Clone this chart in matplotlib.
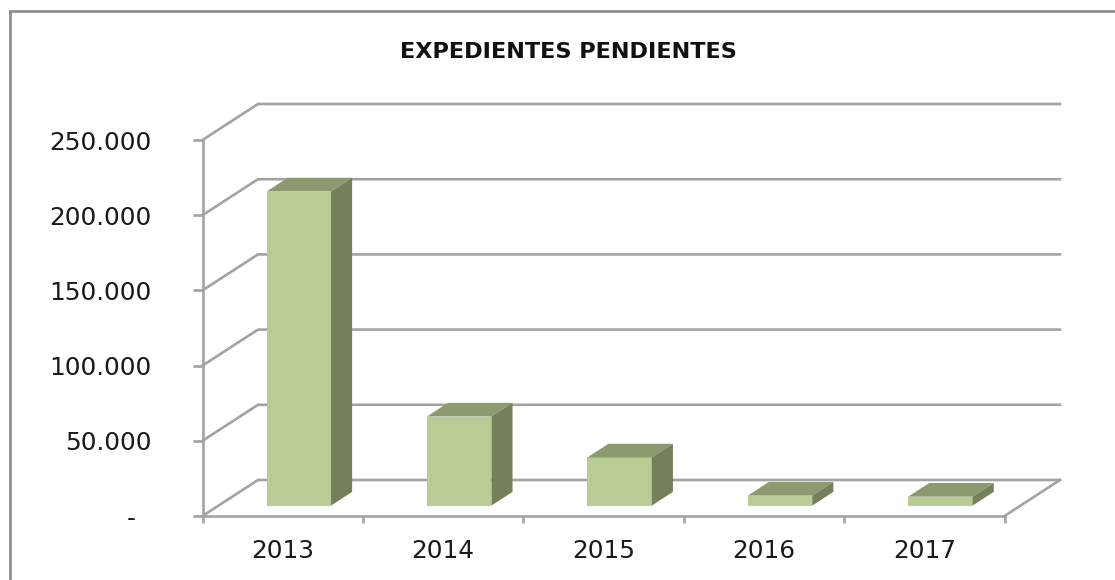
import matplotlib
matplotlib.use("Agg")
import matplotlib.pyplot as plt
import numpy as np
from matplotlib.patches import Polygon, Rectangle

years = ["2013", "2014", "2015", "2016", "2017"]
pendientes = [208800, 59200, 32000, 6600, 5900]
y_ticks = [0, 50000, 100000, 150000, 200000, 250000]
y_labels = ["-  ", "50.000", "100.000", "150.000", "200.000", "250.000"]
title = "EXPEDIENTES PENDIENTES"

W, H = 1115, 580
GRID = "#A3A3A3"
FRONT = "#B9CC94"
TOP = "#8C9A6F"
SIDE = "#738059"

fig = plt.figure(figsize=(W / 100, H / 100), dpi=100)
# chart border, runs off the right and bottom of the picture
fig.add_artist(Rectangle((9.5 / W, -0.1), 1.1, 1 - 10.5 / H + 0.1, transform=fig.transFigure,
                         fc="white", ec="#8A8A8A", lw=1.9, zorder=-1))
ax = fig.add_axes([202.5 / W, (H - 516) / H, 802 / W, 376 / H])
ax.patch.set_visible(False)
ax.set_xlim(0, 5)
ax.set_ylim(0, 250000)

# depth of the fake 3d box, in data units
wall_dx = 55.5 / (802 / 5)
wall_dy = 36 / 376 * 250000
bar_start = 0.29
bar_depth = 0.38
bar_width = 0.402

# back wall lines and their diagonals
for v in y_ticks:
    ax.plot([0, wall_dx, 5 + wall_dx], [v, v + wall_dy, v + wall_dy], color=GRID, lw=1.9, clip_on=False, zorder=1)
ax.plot([5, 5 + wall_dx], [0, wall_dy], color=GRID, lw=1.9, clip_on=False, zorder=1)

# bars
x = np.arange(len(years)) + 0.5
x0 = x + bar_start * wall_dx
y0 = bar_start * wall_dy
dx = bar_depth * wall_dx
dy = bar_depth * wall_dy
ax.bar(x0, pendientes, width=bar_width, bottom=y0, color=FRONT, clip_on=False, zorder=3)
for xc, v in zip(x0, pendientes):
    l, r = xc - bar_width / 2, xc + bar_width / 2
    top = y0 + v
    ax.add_patch(Polygon([(l, top), (r, top), (r + dx, top + dy), (l + dx, top + dy)],
                         fc=TOP, ec="none", clip_on=False, zorder=3))
    ax.add_patch(Polygon([(r, y0), (r + dx, y0 + dy), (r + dx, top + dy), (r, top)],
                         fc=SIDE, ec="none", clip_on=False, zorder=3))

# axes
for s in ["top", "right"]:
    ax.spines[s].set_visible(False)
for s in ["left", "bottom"]:
    ax.spines[s].set_color(GRID)
    ax.spines[s].set_linewidth(1.9)
    ax.spines[s].set_zorder(2)
ax.set_yticks(y_ticks)
ax.set_yticklabels(y_labels, fontsize=17.8, color="#1A1A1A")
ax.tick_params(axis="y", length=7, width=1.9, color=GRID, pad=29.5)
ax.set_xticks(np.arange(6))
ax.set_xticklabels([])
ax.tick_params(axis="x", which="major", length=5, width=1.9, color=GRID)
ax.set_xticks(x, minor=True)
ax.set_xticklabels(years, minor=True, fontsize=17.8, color="#1A1A1A")
ax.tick_params(axis="x", which="minor", length=0, pad=16.5)

fig.text(568.5 / W, 1 - 52.5 / H, title, ha="center", va="center", fontsize=16.1, fontweight="bold",
         color="#111111")

fig.savefig("out.png", dpi=100)
